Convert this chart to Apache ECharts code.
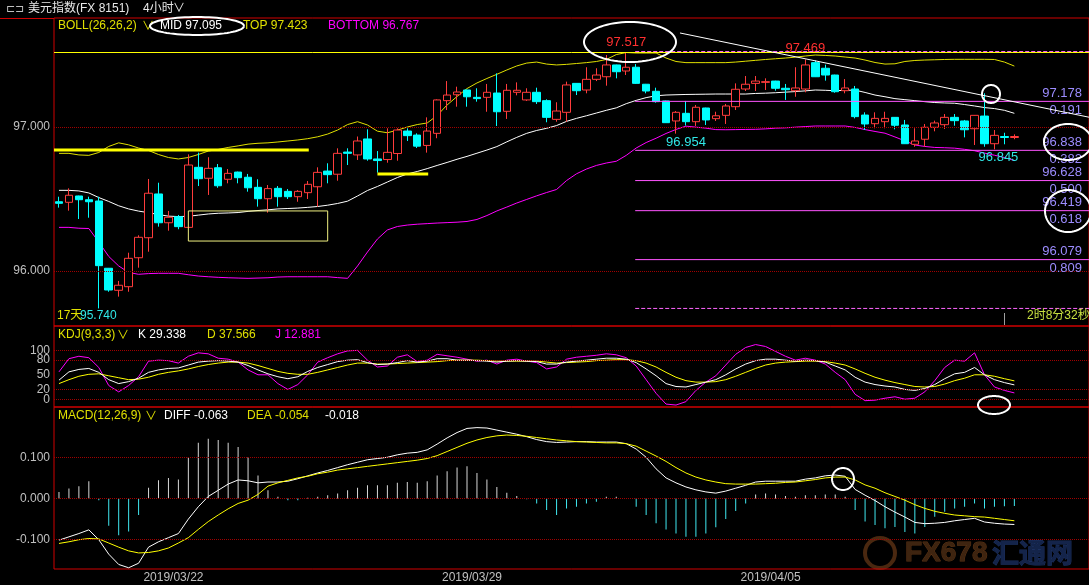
<!DOCTYPE html>
<html><head><meta charset="utf-8">
<script src="https://cdn.jsdelivr.net/npm/echarts@6/dist/echarts.min.js"></script>
<style>html,body{margin:0;padding:0;background:#000;}#c{width:1089px;height:585px;}</style>
</head><body><div id="c"></div>
<script>
// ---------- DATA ----------
const tickIndex = [11, 41, 71];
const tickText = ['2019/03/22', '2019/03/29', '2019/04/05'];
const kdjTicks = [100, 80, 50, 20, 0];
const kdjDotted = [100, 80, 20, 0];
const macdTicks = [0.1, 0, -0.1];
const priceTicks = [97, 96];

const opens = [96.481,96.477,96.521,96.495,96.486,96.019,95.866,95.891,96.092,96.231,
96.535,96.335,96.377,96.303,96.720,96.644,96.717,96.637,96.687,96.651,
96.581,96.502,96.574,96.553,96.516,96.544,96.585,96.694,96.672,96.826,
96.806,96.917,96.778,96.774,96.816,96.972,96.944,96.872,96.956,97.183,
97.224,97.257,97.206,97.206,97.236,97.109,97.241,97.188,97.241,97.183,
97.053,97.102,97.303,97.257,97.331,97.349,97.431,97.389,97.415,97.297,
97.248,97.181,97.042,97.095,97.037,97.132,97.058,97.081,97.141,97.264,
97.303,97.310,97.319,97.269,97.252,97.264,97.447,97.408,97.361,97.252,
97.264,97.083,97.023,97.037,97.067,97.014,96.880,96.915,96.998,97.016,
97.067,97.042,96.988,97.076,96.884,96.934,96.927];
const closes = [96.470,96.526,96.495,96.481,96.037,95.868,95.901,96.088,96.234,96.540,
96.335,96.373,96.308,96.736,96.641,96.713,96.592,96.678,96.648,96.578,
96.502,96.572,96.516,96.516,96.553,96.602,96.685,96.669,96.817,96.817,
96.903,96.778,96.767,96.824,96.979,96.940,96.867,96.972,97.188,97.222,
97.243,97.210,97.197,97.241,97.106,97.255,97.255,97.241,97.176,97.067,
97.111,97.292,97.252,97.331,97.361,97.431,97.384,97.415,97.303,97.250,
97.176,97.030,97.102,97.037,97.137,97.049,97.078,97.146,97.262,97.297,
97.319,97.315,97.269,97.259,97.271,97.431,97.349,97.361,97.245,97.271,
97.072,97.021,97.060,97.060,97.012,96.884,96.903,96.998,97.028,97.067,
97.044,96.981,97.081,96.884,96.942,96.927,96.934];
const lows = [96.440,96.419,96.361,96.370,95.740,95.856,95.822,95.856,96.023,96.134,
96.308,96.280,96.290,96.300,96.590,96.528,96.578,96.609,96.609,96.551,
96.447,96.405,96.447,96.500,96.481,96.500,96.447,96.609,96.627,96.736,
96.771,96.766,96.683,96.752,96.766,96.903,96.854,96.822,96.922,97.118,
97.141,97.141,97.176,97.106,97.007,97.056,97.220,97.181,97.160,97.033,
97.037,97.037,97.222,97.234,97.319,97.287,97.338,97.361,97.299,97.234,
97.169,97.028,96.954,97.010,97.007,97.014,97.042,97.021,97.118,97.250,
97.250,97.257,97.252,97.188,97.210,97.241,97.347,97.322,97.238,97.234,
97.060,96.979,96.991,96.991,96.984,96.882,96.863,96.863,96.970,96.986,
97.009,96.928,96.875,96.863,96.845,96.880,96.915];
const highs = [96.516,96.574,96.523,96.516,96.516,96.021,95.931,96.127,96.248,96.639,
96.613,96.417,96.389,96.810,96.822,96.790,96.743,96.708,96.690,96.674,
96.637,96.597,96.590,96.569,96.562,96.625,96.720,96.748,96.852,96.852,
96.934,96.984,96.833,96.991,96.991,96.991,96.956,97.067,97.192,97.319,
97.280,97.260,97.269,97.299,97.373,97.299,97.310,97.269,97.273,97.192,
97.172,97.315,97.305,97.415,97.408,97.500,97.433,97.517,97.437,97.299,
97.273,97.183,97.111,97.181,97.153,97.134,97.106,97.160,97.303,97.354,
97.354,97.338,97.321,97.299,97.415,97.469,97.462,97.433,97.363,97.333,
97.285,97.102,97.102,97.106,97.069,97.049,96.991,97.021,97.044,97.090,
97.090,97.049,97.083,97.234,96.979,96.960,96.949];

const bollTop = [96.817,96.817,96.806,96.803,96.823,96.865,96.890,96.876,96.854,96.837,
96.809,96.788,96.778,96.788,96.809,96.833,96.844,96.858,96.869,96.881,
96.887,96.890,96.896,96.903,96.910,96.919,96.932,96.951,96.979,97.017,
97.037,97.014,96.971,96.960,96.978,97.000,97.017,97.028,97.080,97.153,
97.212,97.267,97.306,97.337,97.366,97.396,97.424,97.444,97.451,97.437,
97.431,97.435,97.441,97.447,97.455,97.469,97.503,97.517,97.514,97.514,
97.514,97.479,97.455,97.447,97.447,97.447,97.447,97.447,97.451,97.457,
97.463,97.469,97.474,97.479,97.485,97.493,97.500,97.497,97.493,97.486,
97.479,97.465,97.448,97.437,97.439,97.455,97.462,97.465,97.467,97.469,
97.470,97.470,97.470,97.470,97.469,97.451,97.423];
const bollMid = [96.560,96.560,96.556,96.542,96.510,96.483,96.453,96.431,96.416,96.405,
96.392,96.381,96.378,96.380,96.388,96.396,96.401,96.403,96.406,96.414,
96.420,96.425,96.431,96.434,96.437,96.442,96.448,96.457,96.469,96.485,
96.521,96.559,96.587,96.618,96.649,96.674,96.691,96.711,96.733,96.754,
96.776,96.796,96.818,96.840,96.864,96.897,96.928,96.956,96.976,96.991,
97.010,97.039,97.060,97.078,97.097,97.116,97.133,97.162,97.185,97.204,
97.217,97.222,97.224,97.226,97.227,97.228,97.229,97.229,97.229,97.229,
97.233,97.235,97.238,97.242,97.246,97.251,97.257,97.255,97.252,97.255,
97.256,97.240,97.222,97.210,97.197,97.190,97.183,97.176,97.170,97.167,
97.165,97.156,97.146,97.135,97.128,97.116,97.095];
const bollBottom = [96.303,96.303,96.297,96.295,96.201,96.101,96.035,95.990,95.977,95.982,
95.984,95.984,95.984,95.974,95.965,95.960,95.956,95.953,95.951,95.949,
95.951,95.953,95.958,95.960,95.960,95.960,95.960,95.960,95.954,95.949,
96.035,96.132,96.222,96.285,96.309,96.319,96.325,96.329,96.333,96.336,
96.339,96.344,96.358,96.385,96.417,96.444,96.472,96.497,96.522,96.545,
96.566,96.628,96.675,96.708,96.733,96.750,96.762,96.803,96.854,96.892,
96.922,96.955,96.983,97.006,96.999,96.992,96.982,96.981,96.982,96.983,
96.984,96.987,96.992,96.994,96.999,97.003,97.007,97.007,97.007,97.007,
96.997,96.982,96.969,96.957,96.931,96.904,96.875,96.865,96.858,96.856,
96.853,96.845,96.835,96.819,96.804,96.788,96.767];

const kdjK = [39,56,61,63,55,40,32,36,43,55,60,63,64,70,76,78,79,78,76,69,
60,52,46,42,46,57,65,71,77,80,81,75,71,72,75,79,76,78,83,83,
80,80,79,78,76,78,79,78,77,72,72,76,78,80,82,84,84,82,75,62,
48,32,26,25,30,35,40,50,62,72,79,82,82,80,78,80,79,76,68,60,
45,35,30,27,25,20,18,22,30,42,52,55,65,50,40,34,29.338];
const kdjD = [32,40,47,51,52,48,44,40,41,45,51,55,58,62,67,71,74,76,76,74,
69,63,57,53,51,51,55,60,65,70,74,74,72,72,73,74,75,76,77,79,
80,80,80,79,78,78,78,78,78,76,74,75,76,77,79,80,81,81,79,74,
66,55,45,38,35,35,36,40,47,55,63,70,74,76,77,78,78,77,74,70,
62,53,45,39,34,30,26,25,26,31,38,43,50,50,47,42,37.566];
const kdjJ = [56,83,88,85,65,28,15,28,46,78,80,79,74,88,95,93,84,82,76,60,
50,50,32,20,30,50,76,85,93,99,100,80,66,68,86,91,77,80,92,89,
86,82,78,80,72,80,82,78,75,62,66,82,86,88,90,93,91,85,68,40,
12,-10,-12,-5,18,35,48,70,92,106,112,108,98,88,80,84,80,72,55,40,
10,-3,-2,2,5,0,2,15,38,65,80,78,95,50,25,18,12.881];

const macdDiff = [-0.101,-0.093,-0.085,-0.076,-0.100,-0.135,-0.160,-0.168,-0.157,-0.118,
-0.105,-0.095,-0.085,-0.050,-0.020,0.005,0.020,0.035,0.045,0.043,
0.038,0.040,0.040,0.042,0.048,0.055,0.062,0.068,0.075,0.082,
0.088,0.094,0.097,0.100,0.106,0.110,0.112,0.118,0.132,0.147,
0.160,0.170,0.172,0.171,0.166,0.161,0.156,0.150,0.143,0.138,
0.136,0.137,0.138,0.138,0.137,0.137,0.137,0.133,0.120,0.100,
0.072,0.050,0.038,0.028,0.021,0.016,0.013,0.018,0.025,0.032,
0.040,0.042,0.042,0.042,0.042,0.047,0.050,0.055,0.057,0.054,
0.022,0.008,-0.005,-0.020,-0.033,-0.045,-0.058,-0.061,-0.060,-0.058,
-0.054,-0.051,-0.048,-0.057,-0.060,-0.062,-0.063];
const macdDea = [-0.109,-0.105,-0.100,-0.097,-0.098,-0.108,-0.118,-0.127,-0.132,-0.131,
-0.127,-0.120,-0.108,-0.095,-0.075,-0.056,-0.040,-0.025,-0.012,-0.004,
0.010,0.030,0.038,0.044,0.050,0.054,0.060,0.064,0.069,0.072,
0.075,0.078,0.081,0.084,0.087,0.090,0.093,0.097,0.104,0.114,
0.124,0.134,0.142,0.148,0.152,0.154,0.153,0.151,0.148,0.145,
0.142,0.140,0.138,0.137,0.136,0.135,0.135,0.133,0.127,0.115,
0.103,0.090,0.075,0.062,0.052,0.045,0.040,0.036,0.035,0.035,
0.035,0.036,0.037,0.039,0.040,0.043,0.046,0.050,0.052,0.052,
0.045,0.033,0.025,0.014,0.005,-0.004,-0.015,-0.024,-0.031,-0.036,
-0.040,-0.042,-0.044,-0.045,-0.048,-0.051,-0.054];
const macdHist = [0.016,0.024,0.030,0.042,-0.004,-0.066,-0.089,-0.080,-0.040,0.026,
0.044,0.050,0.046,0.100,0.135,0.145,0.142,0.135,0.125,0.100,
0.056,0.020,0.004,-0.004,-0.004,0.002,0.004,0.008,0.012,0.020,
0.026,0.032,0.032,0.032,0.038,0.040,0.038,0.042,0.056,0.066,
0.075,0.078,0.062,0.046,0.028,0.014,0.006,-0.002,-0.012,-0.028,
-0.040,-0.024,-0.020,-0.012,-0.008,0.004,0.004,0.000,-0.020,-0.040,
-0.060,-0.075,-0.085,-0.093,-0.093,-0.085,-0.070,-0.050,-0.030,-0.012,
0.010,0.012,0.010,0.006,0.004,0.008,0.008,0.010,0.010,0.004,
-0.028,-0.056,-0.064,-0.072,-0.069,-0.081,-0.085,-0.069,-0.044,-0.032,
-0.024,-0.020,-0.012,-0.024,-0.020,-0.019,-0.018];

// drawn studies
const fibLevels = [97.178, 96.838, 96.628, 96.419, 96.079];
const fibRatios = ['0.191', '0.382', '0.500', '0.618', '0.809'];
const fibZero = 97.524, fibOne = 95.740, fibStart = 57.9;
const highLine = 97.517;
const trendLine = [[62.4, 97.653], [103.5, 97.068]];
const supportA = [[-0.5, 96.840], [25.1, 96.840]];
const supportB = [[32.0, 96.674], [37.1, 96.674]];
const boxRect = [[13.0, 96.417], [27.0, 96.417], [27.0, 96.208], [13.0, 96.208], [13.0, 96.417]];

// ---------- CHART ----------
const TOTAL = 104;
const cats = Array.from({length: TOTAL}, (_, i) => String(i));
const candles = opens.map((o, i) => [o, closes[i], lows[i], highs[i]]);
const RED = '#d00000', DOT = '#a00000', GRAY = '#c0c0c0';
const F = '"Liberation Sans","Noto Sans CJK SC",sans-serif';
const YEL = '#e0e000', MAG = '#ff00ff', CY = '#00ffff', UP = '#ff3c3c';

function ell(cx, cy, rx, ry) {
  const p = []; for (let k = 0; k <= 72; k++) { const a = k / 72 * 2 * Math.PI; p.push([cx + rx * Math.cos(a), cy + ry * Math.sin(a)]); } return p;
}
function T(x, y, text, fill, opt) {
  return {type: 'text', x: x, y: y, z: 100, style: Object.assign({text: text, fill: fill, font: '12px ' + F, textAlign: 'left', textVerticalAlign: 'middle', align: 'left', verticalAlign: 'middle'}, (opt || {}))};
}
function E(cx, cy, rx, ry) { return {type: 'polyline', z: 100, shape: {points: ell(cx, cy, rx, ry)}, style: {stroke: '#ffffff', lineWidth: 2, fill: null}}; }

const gridCommon = {left: 54, right: -6, show: true, borderColor: RED, borderWidth: 1, backgroundColor: 'transparent'};
const catAxis = (gi, showLabel) => ({
  type: 'category', gridIndex: gi, data: cats, boundaryGap: true,
  axisLine: {show: false}, axisTick: {show: false}, splitLine: {show: false},
  axisLabel: showLabel ? {show: true, interval: 0, color: GRAY, fontSize: 12, fontFamily: F, margin: 3, padding: [0, 0, 0, 10],
    formatter: (v, idx) => { const k = tickIndex.indexOf(idx); return k >= 0 ? tickText[k] : ''; }} : {show: false}
});
const ov = (name, data, color, width, type, extra) => Object.assign({
  type: 'line', name: name, xAxisIndex: 3, yAxisIndex: 0, data: data, showSymbol: false, symbol: 'none', silent: true,
  lineStyle: {color: color, width: width, type: type || 'solid'}, z: 5, animation: false
}, extra || {});
// axis-label style lines (label drawn left of plot start)
const tickLine = (v, txt, dotted) => ({
  yAxis: v,
  lineStyle: {color: dotted ? DOT : 'rgba(0,0,0,0)', type: 'dotted', width: 1},
  label: {show: true, position: 'start', distance: 4, formatter: txt, color: GRAY, fontFamily: F, fontSize: 12}
});

const series = [];
series.push({
  type: 'candlestick', xAxisIndex: 0, yAxisIndex: 0, data: candles, barWidth: 8,
  itemStyle: {color: '#000000', color0: CY, borderColor: UP, borderColor0: CY, borderWidth: 1},
  z: 4,
  markLine: {silent: true, symbol: ['none', 'none'],
    data: priceTicks.map(v => tickLine(v, v.toFixed(3), true)).concat([
      {yAxis: highLine, lineStyle: {color: '#ffff00', type: 'solid', width: 1}, label: {show: false}}
    ])},
  markPoint: {symbol: 'circle', symbolSize: 0, silent: true,
    label: {show: true, position: 'inside', fontFamily: F, fontSize: 13},
    data: [
      {coord: [57, 97.517], label: {formatter: '97.517', color: '#ff3030', offset: [0, -10]}},
      {coord: [75, 97.469], label: {formatter: '97.469', color: '#ff3030', offset: [0, -11]}},
      {coord: [62, 96.954], label: {formatter: '96.954', color: '#30e8e8', offset: [10, 9]}},
      {coord: [94, 96.845], label: {formatter: '96.845', color: '#30e8e8', offset: [4, 8]}}
    ]}
});
series.push({type: 'line', name: 'TOP', xAxisIndex: 0, yAxisIndex: 0, data: bollTop, showSymbol: false, symbol: 'none', lineStyle: {color: YEL, width: 1}, z: 3});
series.push({type: 'line', name: 'MID', xAxisIndex: 0, yAxisIndex: 0, data: bollMid, showSymbol: false, symbol: 'none', lineStyle: {color: '#ffffff', width: 1}, z: 3});
series.push({type: 'line', name: 'BOTTOM', xAxisIndex: 0, yAxisIndex: 0, data: bollBottom, showSymbol: false, symbol: 'none', lineStyle: {color: MAG, width: 1}, z: 3});

fibLevels.forEach((lv, k) => {
  series.push(ov('fib' + k, [[fibStart, lv], [103.5, lv]], '#ff55ff', 1, 'solid', {
    markPoint: {symbol: 'circle', symbolSize: 0, silent: true,
      label: {show: true, position: 'left', distance: 0, color: '#9c8cff', fontFamily: F, fontSize: 13},
      data: [
        {coord: [102.8, lv], label: {formatter: lv.toFixed(3), offset: [0, -8]}},
        {coord: [102.8, lv], label: {formatter: fibRatios[k], offset: [0, 9]}}
      ]}
  }));
});
series.push(ov('fib0', [[fibStart, fibZero], [103.5, fibZero]], '#ff66ff', 1, 'dashed'));
series.push(ov('fib1', [[fibStart, fibOne], [103.5, fibOne]], '#ff66ff', 1, 'dashed'));
series.push(ov('trend', trendLine, '#ffffff', 1));
series.push(ov('supA', supportA, '#ffff00', 3));
series.push(ov('supB', supportB, '#ffff00', 3));
series.push(ov('box', boxRect, '#f0f080', 1));

// KDJ
series.push({type: 'line', name: 'K', xAxisIndex: 1, yAxisIndex: 1, data: kdjK, showSymbol: false, symbol: 'none', lineStyle: {color: '#ffffff', width: 1}, z: 4,
  markLine: {silent: true, symbol: ['none', 'none'],
    data: kdjTicks.map(v => tickLine(v, String(v), kdjDotted.indexOf(v) >= 0))}});
series.push({type: 'line', name: 'D', xAxisIndex: 1, yAxisIndex: 1, data: kdjD, showSymbol: false, symbol: 'none', lineStyle: {color: '#ffff00', width: 1}, z: 3});
series.push({type: 'line', name: 'J', xAxisIndex: 1, yAxisIndex: 1, data: kdjJ, showSymbol: false, symbol: 'none', lineStyle: {color: MAG, width: 1}, z: 2});

// MACD
series.push({type: 'bar', name: 'MACD', xAxisIndex: 2, yAxisIndex: 2, data: macdHist, barWidth: 1,
  itemStyle: {color: p => p.value >= 0 ? '#d8d8d8' : '#40e8f0'},
  markLine: {silent: true, symbol: ['none', 'none'],
    data: macdTicks.map(v => tickLine(v, v.toFixed(3), true))}});
series.push({type: 'line', name: 'DIFF', xAxisIndex: 2, yAxisIndex: 2, data: macdDiff, showSymbol: false, symbol: 'none', lineStyle: {color: '#ffffff', width: 1}, z: 4});
series.push({type: 'line', name: 'DEA', xAxisIndex: 2, yAxisIndex: 2, data: macdDea, showSymbol: false, symbol: 'none', lineStyle: {color: '#ffff00', width: 1}, z: 4});

const graphics = [
  {type: 'line', shape: {x1: 0, y1: 18.5, x2: 54, y2: 18.5}, style: {stroke: RED, lineWidth: 1}},
  T(6, 9, '⊏⊐', '#c0c0c0', {font: '11px ' + F}),
  T(28, 9, '美元指数(FX 8151)', '#e8e8e8'),
  T(143, 9, '4小时', '#e8e8e8'),
  T(173, 9, '∨', '#e8e8e8'),
  T(58, 26, 'BOLL(26,26,2)', YEL),
  T(142, 27, '∨', YEL),
  T(160, 26, 'MID 97.095', '#ffffff'),
  T(243, 26, 'TOP 97.423', YEL),
  T(328, 26, 'BOTTOM 96.767', MAG),
  T(58, 335, 'KDJ(9,3,3)', YEL),
  T(117, 336, '∨', YEL),
  T(138, 335, 'K 29.338', '#ffffff'),
  T(207, 335, 'D 37.566', YEL),
  T(275, 335, 'J 12.881', MAG),
  T(58, 416, 'MACD(12,26,9)', YEL),
  T(145, 417, '∨', YEL),
  T(164, 416, 'DIFF -0.063', '#ffffff'),
  T(247, 416, 'DEA -0.054', YEL),
  T(325, 416, '-0.018', '#ffffff'),
  T(57, 316, '17天', YEL),
  T(80, 316, '95.740', '#30e8e8'),
  T(1027, 316, '2时8分32秒', '#c8e040'),
  {type: 'line', z: 100, shape: {x1: 1004.5, y1: 313, x2: 1004.5, y2: 325}, style: {stroke: '#a0a0a0', lineWidth: 1}},
  E(197, 26, 47, 9),
  E(630, 42, 46, 20),
  E(991, 94, 9, 9),
  E(1068, 142, 24, 18),
  E(1068, 211, 23, 21),
  E(994, 405, 16, 9),
  E(843, 479, 11, 11),
  {type: 'circle', z: -1, shape: {cx: 880, cy: 553, r: 15}, style: {fill: null, stroke: '#4a2810', lineWidth: 4}},
  {type: 'text', z: -1, x: 905, y: 553, style: {text: 'FX678', fill: '#3e2410', stroke: '#5e3414', lineWidth: 1, font: 'bold 28px "Liberation Sans Narrow","Liberation Sans",sans-serif', textAlign: 'left', textVerticalAlign: 'middle', align: 'left', verticalAlign: 'middle'}},
  {type: 'text', z: -1, x: 992, y: 553, style: {text: '汇通网', fill: '#14244a', stroke: '#1c3060', lineWidth: 1, font: 'bold 27px "Noto Sans CJK SC",sans-serif', textAlign: 'left', textVerticalAlign: 'middle', align: 'left', verticalAlign: 'middle'}}
];

const chart = echarts.init(document.getElementById('c'), null, {renderer: 'canvas'});
chart.setOption({
  backgroundColor: '#000000',
  animation: false,
  grid: [
    Object.assign({top: 18, height: 308}, gridCommon),
    Object.assign({top: 326, height: 81}, gridCommon),
    Object.assign({top: 407, height: 162}, gridCommon)
  ],
  xAxis: [catAxis(0, false), catAxis(1, false), catAxis(2, true),
    {type: 'value', gridIndex: 0, min: -0.5, max: 103.5, show: false}],
  yAxis: [
    {type: 'value', gridIndex: 0, min: 95.618, max: 97.757, show: false},
    {type: 'value', gridIndex: 1, min: -16, max: 150, show: false},
    {type: 'value', gridIndex: 2, min: -0.171, max: 0.222, show: false}
  ],
  graphic: graphics,
  series: series
});
</script></body></html>
